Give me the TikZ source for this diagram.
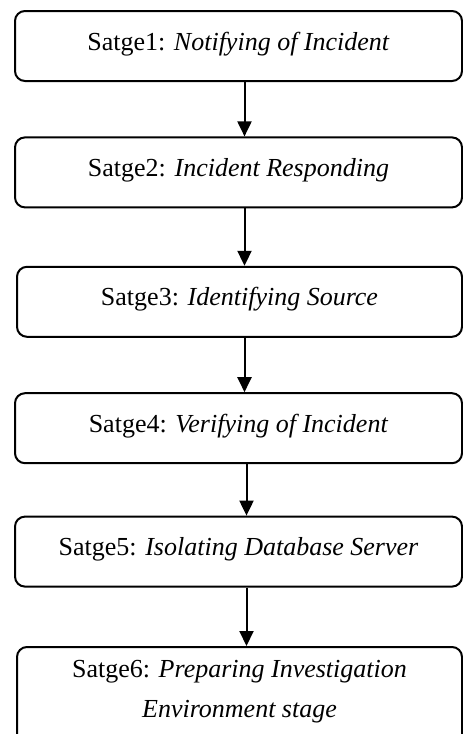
\documentclass[tikz,border=0pt]{standalone}
\usepackage{fontspec}
\setmainfont{Liberation Serif}
\usetikzlibrary{arrows.meta,positioning}

\begin{document}
\begin{tikzpicture}[
  font=\fontsize{13}{20}\selectfont,
  >={Triangle[length=7.5pt,width=7pt]},
  stage/.style={rectangle, rounded corners=5pt, draw=black, line width=1pt, align=center,
                minimum height=35pt, minimum width=223.5pt, inner sep=0pt,
                text height=9pt, text depth=5pt},
  arr/.style={->, line width=1pt, draw=black},
]
\useasboundingbox (0,0) rectangle (231pt,-367pt);

% ---------------------------------------------------------------- stages
\node[stage, anchor=north west] (s1) at (7pt,-5pt) {Satge1: \textit{Notifying of Incident}};
\node[stage, below=27.2pt of s1] (s2) {Satge2: \textit{Incident Responding}};
\node[stage, below=28.7pt of s2, xshift=0.5pt, minimum width=222.5pt] (s3) {Satge3: \textit{Identifying Source}};
\node[stage, below=27.2pt of s3, xshift=-0.5pt] (s4) {Satge4: \textit{Verifying of Incident}};
\node[stage, below=25.7pt of s4] (s5) {Satge5: \textit{Isolating Database Server}};
\node[stage, below=29.2pt of s5, xshift=0.5pt, minimum width=222.5pt,
      text height=35pt, text depth=15pt] (s6)
     {Satge6: \textit{Preparing Investigation}\\\textit{Environment stage}};

% ---------------------------------------------------------------- arrows
\draw[arr] ([xshift=3pt]s1.south) -- ([xshift=3pt]s1.south |- s2.north);
\draw[arr] ([xshift=3pt]s1.south |- s2.south) -- ([xshift=3pt]s1.south |- s3.north);
\draw[arr] ([xshift=3pt]s1.south |- s3.south) -- ([xshift=3pt]s1.south |- s4.north);
\draw[arr] ([xshift=4pt]s4.south) -- ([xshift=4pt]s4.south |- s5.north);
\draw[arr] ([xshift=4pt]s4.south |- s5.south) -- ([xshift=4pt]s4.south |- s6.north);
\end{tikzpicture}
\end{document}
